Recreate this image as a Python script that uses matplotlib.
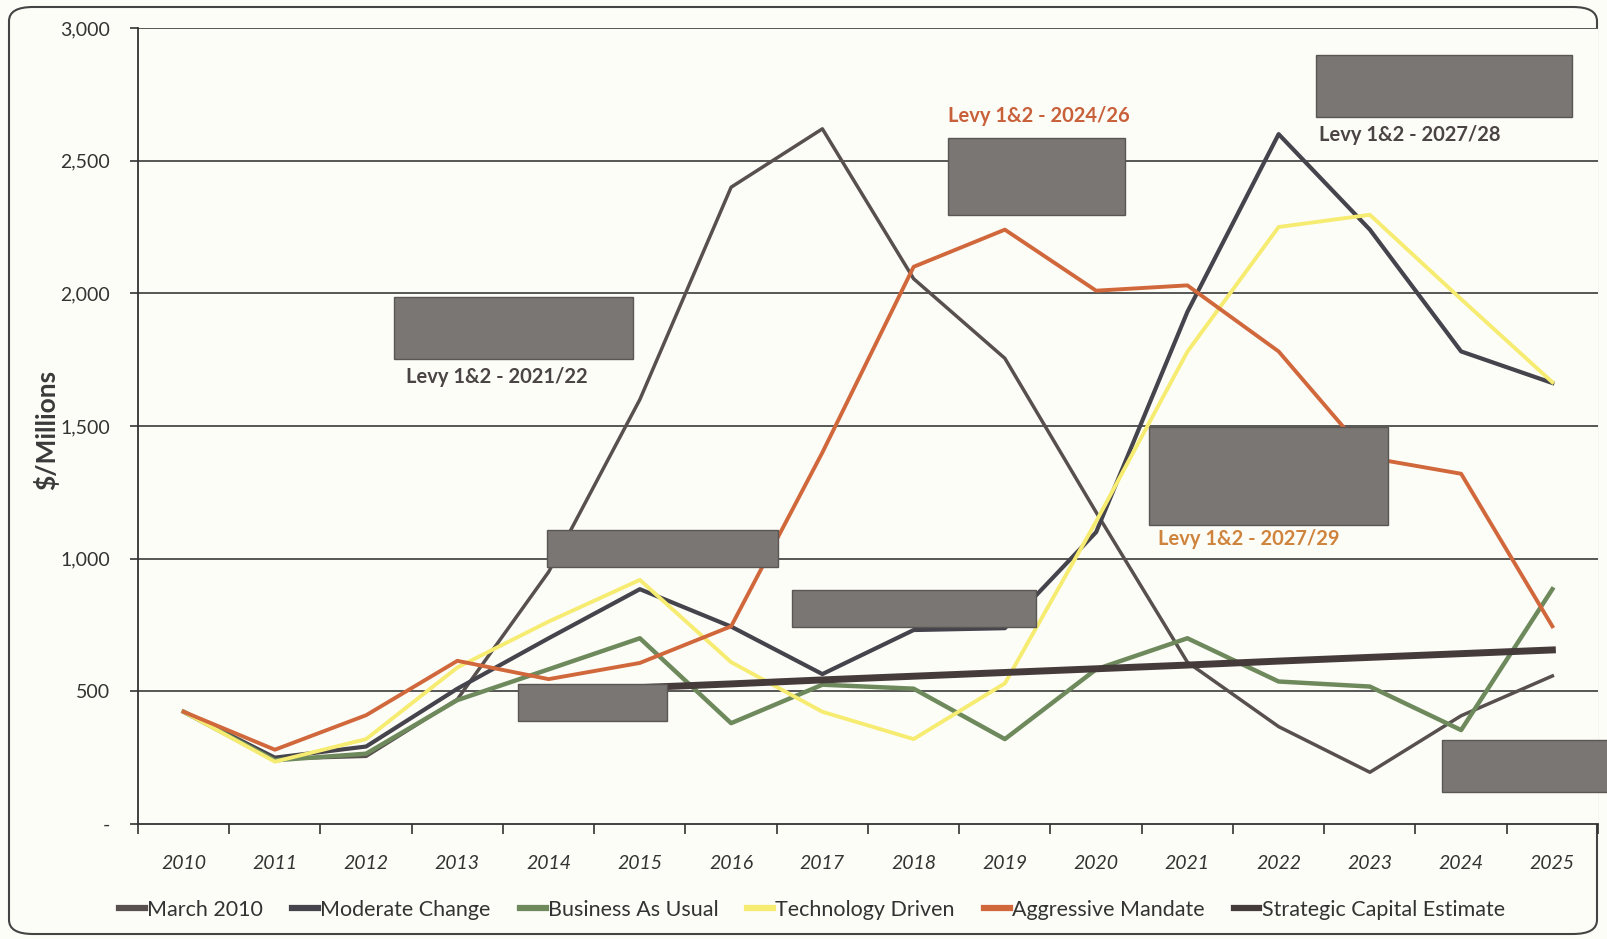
import matplotlib
matplotlib.use('Agg')
import matplotlib.pyplot as plt
from matplotlib import font_manager
from matplotlib.patches import Rectangle, FancyBboxPatch
from matplotlib.ticker import FixedLocator, FuncFormatter

# pick a narrow, Calibri-like font if one is installed
available = {f.name for f in font_manager.fontManager.ttflist}
base_font = 'Liberation Sans Narrow' if 'Liberation Sans Narrow' in available else 'Lato'
plt.rcParams['font.family'] = [base_font, 'DejaVu Sans']

years = ['2010', '2011', '2012', '2013', '2014', '2015', '2016', '2017',
         '2018', '2019', '2020', '2021', '2022', '2023', '2024', '2025']

march_2010 = [423, 245, 255, 470, 950, 1600, 2400, 2620, 2055, 1755, 1175, 610, 367, 195, 408, 558]
moderate_change = [423, 250, 292, 510, 700, 885, 744, 565, 731, 738, 1100, 1930, 2600, 2240, 1781, 1662]
business_as_usual = [423, 240, 265, 467, 583, 700, 380, 525, 510, 320, 583, 700, 537, 518, 354, 885]
technology_driven = [423, 235, 320, 590, 763, 920, 610, 423, 320, 530, 1140, 1780, 2250, 2296, 1978, 1665]
aggressive_mandate = [423, 280, 410, 615, 546, 607, 745, 1400, 2100, 2240, 2010, 2030, 1781, 1380, 1320, 745]
strategic_years = years[5:]
strategic_capital = [514, 528, 543, 557, 571, 585, 599, 614, 628, 642, 656]

y_ticks = [0, 500, 1000, 1500, 2000, 2500, 3000]

W, H = 1608, 939
fig = plt.figure(figsize=(W / 100, H / 100), dpi=100)
fig.patch.set_facecolor('#fdfdf8')


def fx(px):
    return px / W


def fy(py):
    return 1 - py / H


ax = fig.add_axes([fx(138), fy(824), fx(1598) - fx(138), fy(28) - fy(824)])
ax.set_facecolor('#fdfdf8')

xs = list(range(len(years)))
x_strat = [years.index(y) for y in strategic_years]

ax.plot(xs, march_2010, color='#57504f', lw=2.5, label='March 2010', zorder=3)
ax.plot(xs, moderate_change, color='#45434c', lw=3.0, label='Moderate Change', zorder=3)
ax.plot(xs, business_as_usual, color='#6e8a5c', lw=3.2, label='Business As Usual', zorder=3)
ax.plot(xs, technology_driven, color='#f6ec72', lw=2.8, label='Technology Driven', zorder=3)
ax.plot(xs, aggressive_mandate, color='#d0683c', lw=2.8, label='Aggressive Mandate', zorder=3)
ax.plot(x_strat, strategic_capital, color='#463b3b', lw=5, label='Strategic Capital Estimate', zorder=3)

ax.set_xlim(-0.5, len(years) - 0.5)
ax.set_ylim(0, 3000)

# y axis
ax.yaxis.set_major_locator(FixedLocator(y_ticks))
ax.yaxis.set_major_formatter(FuncFormatter(lambda v, p: '-' if v == 0 else f'{int(v):,}'))
ax.tick_params(axis='y', length=6, width=1.2, color='#333333', pad=14, labelsize=14, labelcolor='#333333')
for v in y_ticks[1:]:
    ax.axhline(v, color='#3a3a3a', lw=1.2, zorder=1)

# x axis: ticks on category edges, labels at centres
ax.xaxis.set_major_locator(FixedLocator([i - 0.5 for i in range(len(years) + 1)]))
ax.xaxis.set_major_formatter(FuncFormatter(lambda v, p: ''))
ax.xaxis.set_minor_locator(FixedLocator(xs))
ax.set_xticklabels(years, minor=True)
ax.tick_params(axis='x', which='major', length=7, width=1.2, color='#333333')
ax.tick_params(axis='x', which='minor', length=0, pad=22, labelsize=14, labelcolor='#333333')
for lab in ax.get_xticklabels(minor=True):
    lab.set_fontstyle('italic')

for s in ['top', 'right']:
    ax.spines[s].set_visible(False)
ax.spines['left'].set_color('#333333')
ax.spines['bottom'].set_color('#333333')
ax.spines['left'].set_linewidth(1.3)
ax.spines['bottom'].set_linewidth(1.3)

fig.text(fx(46), fy(430), '$/Millions', rotation=90, ha='center', va='center',
         fontsize=19, fontweight='bold', color='#3a3a3a')

# redaction boxes (pixel positions on the page)
boxes = [(394, 297, 633, 359), (948, 138, 1125, 215), (1316, 55, 1572, 117),
         (547, 530, 778, 567), (792, 590, 1036, 627), (518, 684, 667, 721),
         (1149, 427, 1388, 525), (1442, 740, 1608, 792)]
for x0, y0, x1, y1 in boxes:
    fig.add_artist(Rectangle((fx(x0), fy(y1)), fx(x1) - fx(x0), fy(y0) - fy(y1),
                             transform=fig.transFigure, facecolor='#7a7673',
                             edgecolor='#5a5653', lw=1, zorder=10))

notes = [('Levy 1&2 - 2021/22', 497, 377, '#4a4444'),
         ('Levy 1&2 - 2024/26', 1039, 116, '#c8603a'),
         ('Levy 1&2 - 2027/28', 1410, 135, '#4a4444'),
         ('Levy 1&2 - 2027/29', 1249, 539, '#cf843e')]
for txt, px, py, col in notes:
    fig.text(fx(px), fy(py), txt, ha='center', va='center', fontsize=14.5,
             fontweight='bold', color=col, zorder=11)

leg = fig.legend(*ax.get_legend_handles_labels(), loc='center', ncol=6,
                 bbox_to_anchor=(fx(812), fy(910)), frameon=False, fontsize=15.5,
                 handlelength=1.2, handletextpad=0.1, columnspacing=1.35, labelcolor='#333333')
for line in leg.get_lines():
    line.set_linewidth(4.5)

# rounded frame around the chart
fig.add_artist(FancyBboxPatch((fx(9), fy(934)), fx(1597) - fx(9), fy(7) - fy(934),
                              boxstyle='round,pad=0,rounding_size=0.015',
                              transform=fig.transFigure, fill=False,
                              edgecolor='#444444', lw=1.5, zorder=0))

fig.savefig('out.png', dpi=100, facecolor=fig.get_facecolor())
